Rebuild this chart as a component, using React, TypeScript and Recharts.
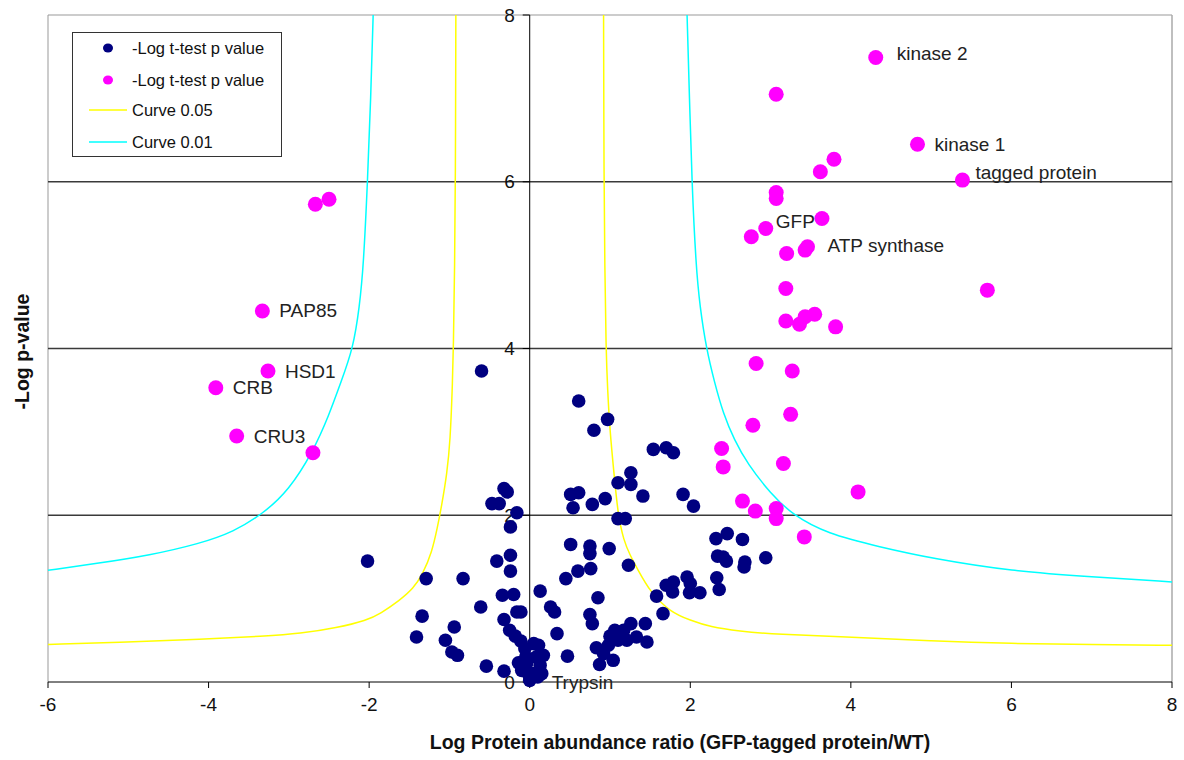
import React from 'react';
import { ComposedChart, XAxis, YAxis, Scatter, Line, ReferenceLine, Legend } from 'recharts';

const FONT = '"Liberation Sans", Arial, sans-serif';

const xTicks = [-6, -4, -2, 0, 2, 4, 6, 8];
const yTicks = [0, 2, 4, 6, 8];
const gridValues = [2, 4, 6];

// -Log t-test p value (not significant), [ratio, -log p, label?]
const baselinePoints: [number, number, string?][] = [
  [-0.6, 3.73], [0.61, 3.37], [0.97, 3.15], [0.8, 3.02], [1.54, 2.79], [1.7, 2.81], [1.79, 2.75],
  [1.26, 2.51], [1.26, 2.37], [1.1, 2.39], [1.41, 2.23], [1.91, 2.25], [2.04, 2.11], [0.94, 2.2],
  [0.78, 2.13], [0.51, 2.25], [0.61, 2.27], [0.54, 2.09], [1.1, 1.96], [1.19, 1.96], [-0.32, 2.32],
  [-0.28, 2.28], [-0.47, 2.14], [-0.38, 2.14], [-0.16, 2.03], [-0.24, 1.86], [0.51, 1.65], [0.75, 1.63],
  [0.75, 1.54], [0.99, 1.6], [-0.24, 1.52], [-0.41, 1.45], [-0.24, 1.33], [0.76, 1.36], [0.6, 1.33],
  [0.45, 1.24], [1.23, 1.4], [-1.29, 1.24], [-0.83, 1.24], [0.85, 1.01], [-0.34, 1.04], [-0.2, 1.05],
  [0.13, 1.09], [-0.61, 0.9], [-1.34, 0.79], [-0.16, 0.84], [-0.11, 0.84], [0.26, 0.9], [0.31, 0.84],
  [0.75, 0.81], [0.78, 0.7], [-0.32, 0.75], [-0.94, 0.66], [-1.41, 0.54], [-1.05, 0.5], [-0.97, 0.36],
  [-0.9, 0.32], [0.34, 0.58], [0.47, 0.31], [-0.54, 0.19], [1.66, 0.82], [1.58, 1.03], [1.7, 1.16],
  [1.79, 1.2], [1.78, 1.08], [1.96, 1.26], [2.0, 1.18], [1.99, 1.07], [2.12, 1.07], [2.33, 1.25],
  [2.36, 1.11], [2.32, 1.72], [2.46, 1.78], [2.65, 1.71], [2.34, 1.51], [2.41, 1.5], [2.45, 1.45],
  [2.68, 1.44], [2.67, 1.38], [2.94, 1.49], [-2.02, 1.45], [0.83, 0.41], [0.87, 0.21], [1.04, 0.26],
  [1.0, 0.55], [1.06, 0.62], [1.1, 0.5], [1.17, 0.62], [1.26, 0.7], [1.21, 0.5], [1.33, 0.54],
  [1.44, 0.7], [1.46, 0.48], [0.98, 0.44], [0.92, 0.34], [-0.32, 0.13], [-0.25, 0.62], [-0.18, 0.55],
  [-0.11, 0.49], [-0.06, 0.4], [0.05, 0.46], [0.11, 0.44], [0.17, 0.32], [-0.14, 0.23], [-0.04, 0.22],
  [0.13, 0.2], [0.15, 0.1], [-0.02, 0.1], [0.04, 0.1], [-0.1, 0.14], [0.08, 0.3], [-0.05, 0.3],
  [0.1, 0.06], [0.0, 0.02, 'Trypsin'],
];

// -Log t-test p value (significant)
const hitPoints: [number, number, string?][] = [
  [-2.67, 5.73], [-2.5, 5.79], [-3.33, 4.45, 'PAP85'], [-3.26, 3.73, 'HSD1'], [-3.91, 3.53, 'CRB'],
  [-3.65, 2.95, 'CRU3'], [-2.7, 2.75], [3.07, 7.05], [4.31, 7.49, 'kinase 2'], [4.83, 6.45, 'kinase 1'],
  [5.39, 6.02, 'tagged protein'], [3.62, 6.12], [3.79, 6.27], [3.07, 5.87], [3.07, 5.8], [3.64, 5.56],
  [2.94, 5.44, 'GFP'], [2.76, 5.34], [3.2, 5.14], [3.46, 5.22, 'ATP synthase'], [3.43, 5.18],
  [5.7, 4.7], [3.19, 4.72], [3.19, 4.33], [3.43, 4.38], [3.55, 4.41], [3.36, 4.29], [3.81, 4.26],
  [2.82, 3.82], [3.27, 3.73], [3.25, 3.21], [2.78, 3.08], [2.39, 2.8], [2.41, 2.58], [3.16, 2.62],
  [4.09, 2.28], [2.65, 2.17], [2.81, 2.05], [3.07, 2.08], [3.07, 1.96], [3.42, 1.74],
];

// Curve 0.05
const curve05Left: [number, number][] = [
  [-6, 0.45], [-5, 0.48], [-4.1, 0.51], [-3.3, 0.55], [-2.86, 0.58], [-2.4, 0.65], [-2.03, 0.74],
  [-1.86, 0.82], [-1.62, 0.98], [-1.45, 1.12], [-1.33, 1.3], [-1.22, 1.55], [-1.15, 1.85], [-1.1, 2.1],
  [-1.03, 2.5], [-0.99, 2.9], [-0.965, 3.5], [-0.95, 4], [-0.935, 5], [-0.925, 6], [-0.92, 8],
];
const curve05Right: [number, number][] = [
  [0.92, 8], [0.925, 6], [0.935, 5], [0.95, 4], [0.97, 3.5], [1.0, 3.0], [1.05, 2.5], [1.1, 2.0],
  [1.17, 1.7], [1.25, 1.52], [1.34, 1.36], [1.5, 1.08], [1.75, 0.84], [2.0, 0.74], [2.25, 0.66],
  [2.6, 0.61], [3.08, 0.57], [4, 0.54], [5, 0.49], [6, 0.46], [7, 0.45], [8, 0.44],
];
// Curve 0.01
const curve01Left: [number, number][] = [
  [-6, 1.34], [-5.4, 1.42], [-4.73, 1.52], [-4.11, 1.66], [-3.69, 1.8], [-3.32, 2.02], [-3.0, 2.3],
  [-2.7, 2.76], [-2.5, 3.2], [-2.35, 3.6], [-2.2, 4.0], [-2.12, 4.5], [-2.07, 5.0], [-2.02, 6],
  [-1.98, 7], [-1.95, 8],
];
const curve01Right: [number, number][] = [
  [1.96, 8], [1.99, 7], [2.02, 6], [2.07, 5], [2.12, 4.5], [2.2, 4], [2.3, 3.6], [2.41, 3.22],
  [2.55, 2.9], [2.71, 2.62], [3.0, 2.26], [3.28, 2.0], [3.7, 1.78], [4.36, 1.62], [5.02, 1.48],
  [6, 1.33], [7, 1.26], [8, 1.2],
];

const toPts = (arr: [number, number, string?][]) => arr.map(([x, y, label]) => ({ x, y, label }));
const toLine = (arr: [number, number][]) => arr.map(([x, y]) => ({ x, y }));

const LABEL_NUDGE: Record<string, [number, number]> = {
  'kinase 2': [21, -4],
  'tagged protein': [13, -8],
  GFP: [10, -7],
  'ATP synthase': [20, -1],
  Trypsin: [22, 2],
};

const makeDot = (color: string, r: number) => (props: any) => {
  const { cx, cy, payload } = props;
  const label = payload && payload.label;
  const nudge = label ? LABEL_NUDGE[label] || [17, 0] : [0, 0];
  return (
    <g>
      <circle cx={cx} cy={cy} r={r} fill={color} />
      {label ? (
        <text x={cx + nudge[0]} y={cy + nudge[1]} dominantBaseline="central" fontSize={19} fill="#222" fontFamily={FONT}>
          {label}
        </text>
      ) : null}
    </g>
  );
};

const YTickShape = (props: any) => {
  const { cx, cy, payload } = props;
  return (
    <g>
      <line x1={cx - 7} y1={cy} x2={cx} y2={cy} stroke="#000" strokeWidth={1} />
      <text x={cx - 15} y={cy} textAnchor="end" dominantBaseline="central" fontSize={19} fill="#111" fontFamily={FONT}>
        {payload.y}
      </text>
    </g>
  );
};

const LegendBox = () => (
  <svg width={211} height={126} style={{ display: 'block' }}>
    <rect x={0.5} y={0.5} width={209} height={124} fill="#fff" stroke="#333" strokeWidth={1} />
    <ellipse cx={36} cy={16} rx={5} ry={4.5} fill="#000080" />
    <text x={60} y={16} dominantBaseline="central" fontSize={16.5} fill="#111" fontFamily={FONT}>-Log t-test p value</text>
    <ellipse cx={36} cy={48} rx={5} ry={4.5} fill="#ff00ff" />
    <text x={60} y={48} dominantBaseline="central" fontSize={16.5} fill="#111" fontFamily={FONT}>-Log t-test p value</text>
    <line x1={17} y1={78} x2={55} y2={78} stroke="#ffff00" strokeWidth={1.5} />
    <text x={60} y={78} dominantBaseline="central" fontSize={16.5} fill="#111" fontFamily={FONT}>Curve 0.05</text>
    <line x1={17} y1={110} x2={55} y2={110} stroke="#00ffff" strokeWidth={1.5} />
    <text x={60} y={110} dominantBaseline="central" fontSize={16.5} fill="#111" fontFamily={FONT}>Curve 0.01</text>
  </svg>
);

const XTitle = (props: any) => {
  const { viewBox } = props;
  return (
    <text x={680} y={viewBox.y + 67} textAnchor="middle" fontSize={19.5} fontWeight="bold" fill="#111" fontFamily={FONT}>
      Log Protein abundance ratio (GFP-tagged protein/WT)
    </text>
  );
};

const YTitle = (props: any) => {
  const { viewBox } = props;
  const cx = 22;
  const cy = viewBox.y + viewBox.height / 2 + 3;
  return (
    <text x={cx} y={cy} transform={`rotate(-90 ${cx} ${cy})`} textAnchor="middle" dominantBaseline="central" fontSize={19.5} fontWeight="bold" fill="#111" fontFamily={FONT}>
      -Log p-value
    </text>
  );
};

export default function App() {
  const yTickData = yTicks.map((v) => ({ x: 0, y: v }));
  return (
    <div style={{ position: 'absolute', left: 0, top: 0, width: 1184, height: 760, background: '#fff' }}>
      <ComposedChart width={1184} height={760} margin={{ top: 15, right: 12, bottom: 0, left: 0 }}>
        <XAxis
          type="number"
          dataKey="x"
          domain={[-6, 8]}
          ticks={xTicks}
          interval={0}
          height={78}
          tickSize={6}
          tickMargin={10}
          axisLine={{ stroke: '#000', strokeWidth: 1 }}
          tickLine={{ stroke: '#000' }}
          tick={{ fontSize: 19, fill: '#111', fontFamily: FONT }}
          label={<XTitle />}
        />
        <YAxis
          type="number"
          dataKey="y"
          domain={[0, 8]}
          ticks={yTicks}
          width={48}
          tick={false}
          tickLine={false}
          axisLine={false}
          label={<YTitle />}
        />
        <ReferenceLine y={8} stroke="#999" strokeWidth={1} />
        <ReferenceLine x={-6} stroke="#999" strokeWidth={1} />
        <ReferenceLine x={8} stroke="#aaa" strokeWidth={1.5} />
        {gridValues.map((v) => (
          <ReferenceLine key={v} y={v} stroke="#3a3a3a" strokeWidth={1.3} />
        ))}
        <ReferenceLine x={0} stroke="#000" strokeWidth={1} />
        <Line data={toLine(curve05Left)} dataKey="y" type="basis" stroke="#ffff00" strokeWidth={1.5} dot={false} isAnimationActive={false} legendType="none" />
        <Line data={toLine(curve05Right)} dataKey="y" type="basis" stroke="#ffff00" strokeWidth={1.5} dot={false} isAnimationActive={false} legendType="none" />
        <Line data={toLine(curve01Left)} dataKey="y" type="basis" stroke="#00ffff" strokeWidth={1.5} dot={false} isAnimationActive={false} legendType="none" />
        <Line data={toLine(curve01Right)} dataKey="y" type="basis" stroke="#00ffff" strokeWidth={1.5} dot={false} isAnimationActive={false} legendType="none" />
        <Scatter data={yTickData} dataKey="y" shape={YTickShape} isAnimationActive={false} legendType="none" />
        <Scatter name="-Log t-test p value" data={toPts(baselinePoints)} dataKey="y" shape={makeDot('#000080', 6.8)} isAnimationActive={false} />
        <Scatter name="-Log t-test p value " data={toPts(hitPoints)} dataKey="y" shape={makeDot('#ff00ff', 7.5)} isAnimationActive={false} />
        <Legend
          layout="vertical"
          align="center"
          verticalAlign="middle"
          wrapperStyle={{ position: 'absolute', left: 72, top: 32, width: 211, height: 126 }}
          content={() => <LegendBox />}
        />
      </ComposedChart>
    </div>
  );
}
